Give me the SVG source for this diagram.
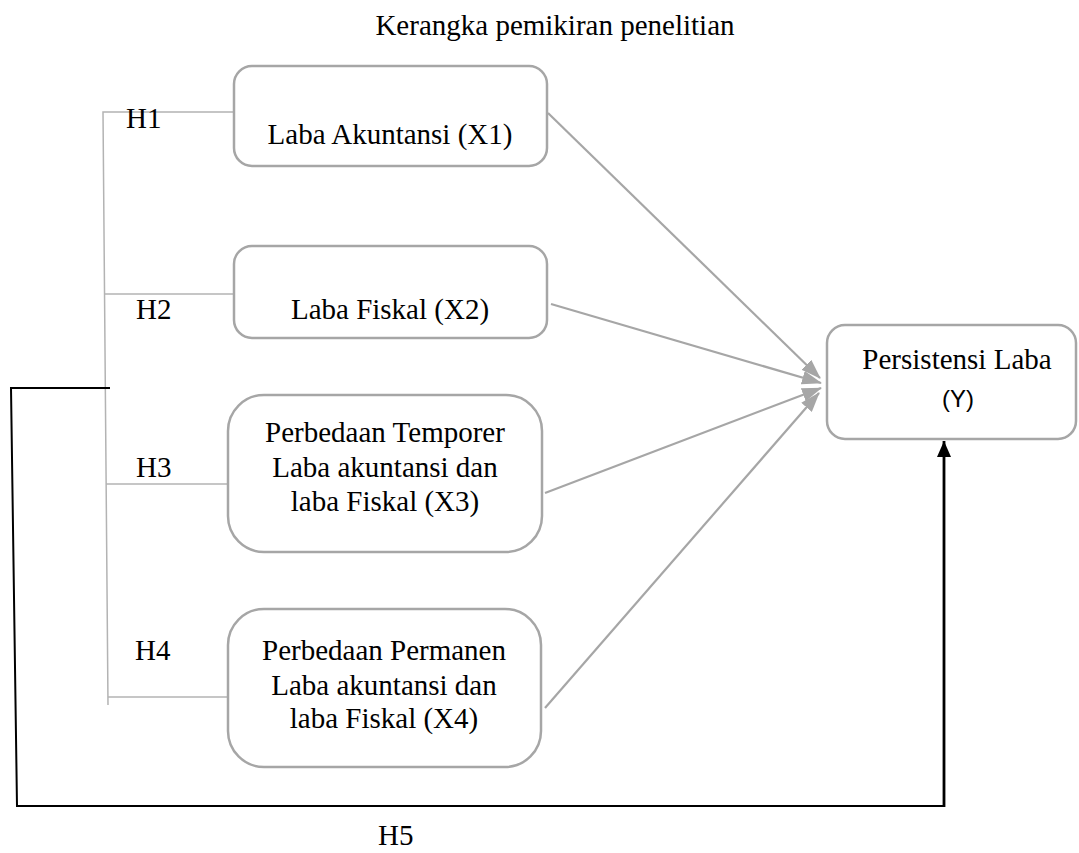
<svg xmlns="http://www.w3.org/2000/svg" width="1079" height="853" viewBox="0 0 1079 853">
<style>
  .t { font-family: "Liberation Serif", "Times New Roman", serif; font-size: 29px; fill: #000; }
  .s { font-family: "Liberation Sans", Arial, sans-serif; font-size: 24px; fill: #000; }
  .box { fill: #fff; stroke: #a6a6a6; stroke-width: 2.5; }
  .hl { fill: none; stroke: #b3b3b3; stroke-width: 1.5; }
  .arr { fill: none; stroke: #a6a6a6; stroke-width: 2.2; marker-end: url(#ga); }
  .blk { fill: none; stroke: #000; stroke-width: 2; }
</style>
<defs>
  <marker id="ga" viewBox="0 0 20 14" refX="19" refY="7" markerWidth="20" markerHeight="14" markerUnits="userSpaceOnUse" orient="auto">
    <path d="M0,0 L20,7 L0,14 z" fill="#a6a6a6"/>
  </marker>
  <marker id="ba" viewBox="0 0 16 14" refX="16" refY="7" markerWidth="16" markerHeight="14" markerUnits="userSpaceOnUse" orient="auto">
    <path d="M0,0 L16,7 L0,14 z" fill="#000"/>
  </marker>
</defs>
<text class="t" x="555" y="35" text-anchor="middle">Kerangka pemikiran penelitian</text>

<g id="connectors">
  <polyline class="hl" points="234,112 103,112 108,705"/>
  <line class="hl" x1="105" y1="294" x2="236" y2="294"/>
  <line class="hl" x1="106" y1="484" x2="228" y2="484"/>
  <line class="hl" x1="108" y1="697" x2="234" y2="697"/>
  <line class="arr" x1="548" y1="113" x2="820" y2="378"/>
  <line class="arr" x1="551" y1="304" x2="821" y2="383"/>
  <line class="arr" x1="545" y1="493" x2="821" y2="388"/>
  <line class="arr" x1="545" y1="708" x2="819" y2="393"/>
  <polyline class="blk" points="110,388 11,388 17,806 944,806"/>
  <line x1="944" y1="807" x2="944" y2="441" stroke="#000" stroke-width="2.8" marker-end="url(#ba)"/>
  <text class="t" x="126" y="128">H1</text>
  <text class="t" x="136" y="319">H2</text>
  <text class="t" x="136" y="477">H3</text>
  <text class="t" x="135" y="660">H4</text>
  <text class="t" x="378" y="845">H5</text>
</g>

<g id="x1">
  <rect class="box" x="234" y="66" width="313" height="100" rx="18"/>
  <text class="t" x="390" y="144" text-anchor="middle">Laba Akuntansi (X1)</text>
</g>
<g id="x2">
  <rect class="box" x="234" y="246" width="313" height="92" rx="18"/>
  <text class="t" x="390" y="319" text-anchor="middle">Laba Fiskal (X2)</text>
</g>
<g id="x3">
  <rect class="box" x="228" y="395" width="314" height="157" rx="36"/>
  <text class="t" x="385" y="442" text-anchor="middle">Perbedaan Temporer</text>
  <text class="t" x="385" y="477" text-anchor="middle">Laba akuntansi dan</text>
  <text class="t" x="385" y="511" text-anchor="middle">laba Fiskal (X3)</text>
</g>
<g id="x4">
  <rect class="box" x="228" y="609" width="313" height="158" rx="36"/>
  <text class="t" x="384" y="660" text-anchor="middle">Perbedaan Permanen</text>
  <text class="t" x="384" y="695" text-anchor="middle">Laba akuntansi dan</text>
  <text class="t" x="384" y="728" text-anchor="middle">laba Fiskal (X4)</text>
</g>
<g id="y">
  <rect class="box" x="827" y="325" width="249" height="114" rx="18"/>
  <text class="t" x="957" y="369" text-anchor="middle">Persistensi Laba</text>
  <text class="s" x="958" y="407" text-anchor="middle">(Y)</text>
</g>
</svg>
